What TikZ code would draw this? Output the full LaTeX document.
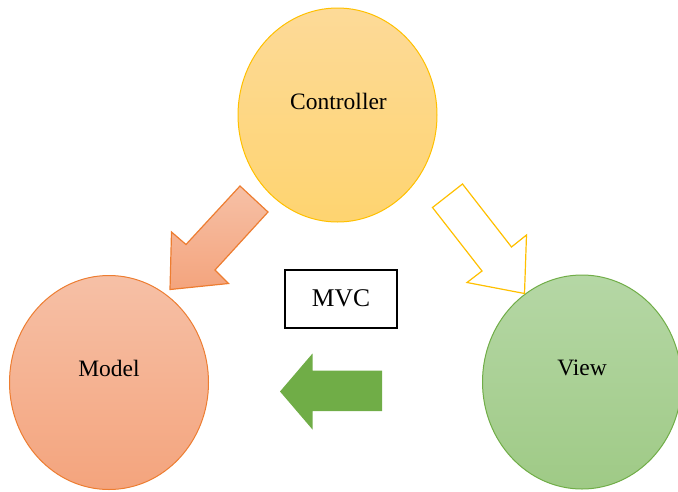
\documentclass[tikz,border=0pt]{standalone}
\usepackage{fontspec}
\setmainfont{Liberation Serif}
\usetikzlibrary{shapes.geometric}
\definecolor{ctrlTop}{HTML}{FDDA98}
\definecolor{ctrlBot}{HTML}{FED470}
\definecolor{ctrlLine}{HTML}{FFC000}
\definecolor{modTop}{HTML}{F6C0A6}
\definecolor{modBot}{HTML}{F4A47D}
\definecolor{modLine}{HTML}{ED7D31}
\definecolor{viewTop}{HTML}{B5D7A5}
\definecolor{viewBot}{HTML}{9FCA86}
\definecolor{viewLine}{HTML}{70AD47}
\tikzset{
  blob/.style={ellipse, minimum width=199pt, minimum height=214pt, inner sep=0pt, line width=1pt},
  lbl/.style={font=\fontsize{23.5}{28}\selectfont, text=black, inner sep=0pt},
  blockarrow/.style={line width=1.2pt, line join=miter},
}
\begin{document}
\begin{tikzpicture}[x=1pt,y=-1pt]
\useasboundingbox (0,0) rectangle (678,491);
\clip (0,0) rectangle (678,491);
% ellipses
\node[blob, draw=ctrlLine, top color=ctrlTop, bottom color=ctrlBot] (ctrl) at (337.5,115) {};
\node[blob, draw=modLine, top color=modTop, bottom color=modBot] (model) at (109,382.5) {};
\node[blob, draw=viewLine, top color=viewTop, bottom color=viewBot] (view) at (582,382) {};
\node[lbl] (ctrlT) at (338.5,101) {Controller};
\node[lbl] (modelT) at (109,368) {Model};
\node[lbl] (viewT) at (582,368) {View};
% MVC box
\node[draw=black, line width=2pt, minimum width=112pt, minimum height=58pt, inner sep=0pt,
      font=\fontsize{25.5}{30}\selectfont] (mvc) at (341,298.5) {MVC};
% orange arrow (Controller -> Model)
\path[blockarrow, draw=modLine, top color=modTop, bottom color=modBot]
  (240,186) -- (268,212) -- (215,270) -- (228.5,283.5) -- (170,289.5) -- (171.5,232) -- (186,244.5) -- cycle;
% yellow outlined arrow (Controller -> View)
\path[blockarrow, draw=ctrlLine, fill=white]
  (462.5,184) -- (432.5,207.5) -- (482,271) -- (467,282.5) -- (524.5,293.5) -- (526.5,235) -- (511.5,247) -- cycle;
% green arrow (View -> Model)
\path[fill=viewLine]
  (280,391.5) -- (312.5,353.5) -- (312.5,370.5) -- (382,370.5) -- (382,411) -- (312.5,411) -- (312.5,429.5) -- cycle;
\end{tikzpicture}
\end{document}
